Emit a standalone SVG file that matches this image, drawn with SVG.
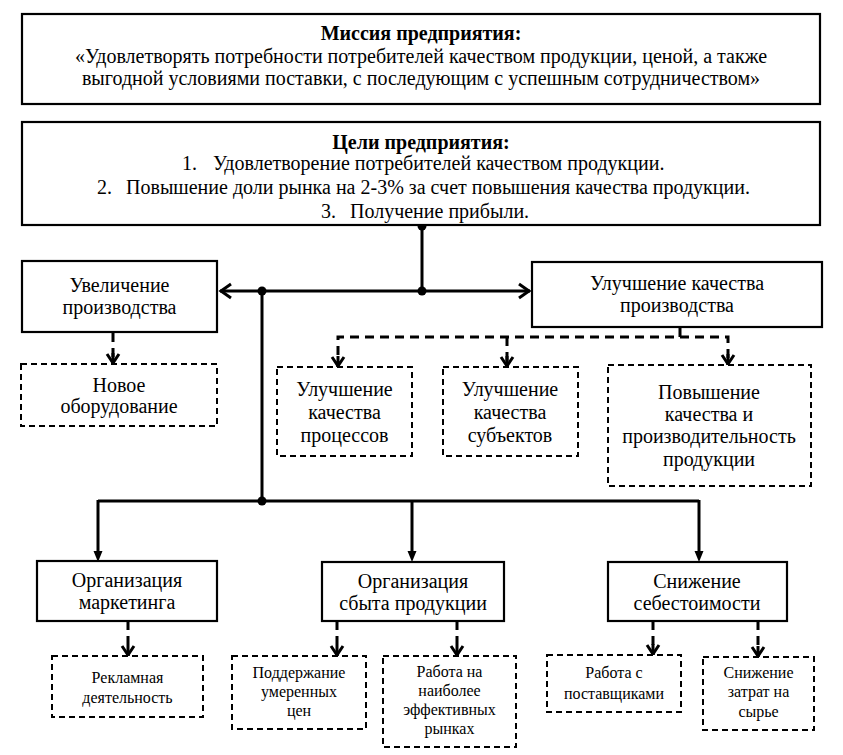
<svg xmlns="http://www.w3.org/2000/svg" width="843" height="755" viewBox="0 0 843 755">
<style>
  text { font-family: "Liberation Serif", "Times New Roman", "DejaVu Serif", serif; fill: #000; text-anchor: middle; }
  .big { font-size: 20px; }
  .sm { font-size: 16px; }
  .b { font-weight: bold; }
  .st { text-anchor: start; }
  .box { fill: #fff; stroke: #000; stroke-width: 2.2; }
  .dbox { fill: #fff; stroke: #000; stroke-width: 2; stroke-dasharray: 6 4; }
  .ln { fill: none; stroke: #000; stroke-width: 3; }
  .dl { fill: none; stroke: #000; stroke-width: 3; stroke-dasharray: 9 6; }
</style>
<defs>
  <marker id="open" markerUnits="userSpaceOnUse" markerWidth="16" markerHeight="18" viewBox="-13 -9 16 18" refX="0" refY="0" orient="auto">
    <path d="M-11,-7 L-1,0 L-11,7" fill="none" stroke="#000" stroke-width="3"/>
  </marker>
  <marker id="tri" markerUnits="userSpaceOnUse" markerWidth="14" markerHeight="12" viewBox="-1 -6 14 12" refX="0" refY="0" orient="auto">
    <path d="M0,-4.5 L11,0 L0,4.5 z" fill="#000"/>
  </marker>
  <marker id="dch" markerUnits="userSpaceOnUse" markerWidth="16" markerHeight="16" viewBox="-14 -8 16 16" refX="0" refY="0" orient="auto">
    <path d="M-11,0 L0,0" stroke="#000" stroke-width="3"/>
    <path d="M-10,-6 L-1,0 L-10,6" fill="none" stroke="#000" stroke-width="3"/>
  </marker>
</defs>

<g id="connectors">
  <path class="ln" d="M422,226 V291"/>
  <path class="ln" d="M422,291 H220" marker-end="url(#open)"/>
  <path class="ln" d="M422,291 H530" marker-end="url(#open)"/>
  <path class="ln" d="M262,291 V501"/>
  <path class="ln" d="M98,501 H699"/>
  <path class="ln" d="M98,500 V551" marker-end="url(#tri)"/>
  <path class="ln" d="M412,501 V551" marker-end="url(#tri)"/>
  <path class="ln" d="M699,500 V551" marker-end="url(#tri)"/>
  <circle cx="422" cy="226" r="4.5"/>
  <circle cx="422" cy="291" r="4.5"/>
  <circle cx="262" cy="291" r="4.5"/>
  <circle cx="262" cy="501" r="4.5"/>
  <path class="dl" d="M113,333 V364" marker-end="url(#dch)"/>
  <path class="dl" d="M680,328 V337 H338 V367" marker-end="url(#dch)"/>
  <path class="dl" d="M507,337 V367" marker-end="url(#dch)"/>
  <path class="dl" d="M680,337 H728 V365" marker-end="url(#dch)"/>
  <path class="dl" d="M128,621 V656" marker-end="url(#dch)"/>
  <path class="dl" d="M337,621 V656" marker-end="url(#dch)"/>
  <path class="dl" d="M457,621 V656" marker-end="url(#dch)"/>
  <path class="dl" d="M653,621 V655" marker-end="url(#dch)"/>
  <path class="dl" d="M758,621 V657" marker-end="url(#dch)"/>
</g>

<g id="mission">
  <rect class="box" x="22" y="14" width="798" height="90"/>
  <text class="big b" x="421" y="40">Миссия предприятия:</text>
  <text class="big" x="421" y="63">«Удовлетворять потребности потребителей качеством продукции, ценой, а также</text>
  <text class="big" x="421" y="85">выгодной условиями поставки, с последующим с успешным сотрудничеством»</text>
</g>

<g id="goals">
  <rect class="box" x="22" y="122" width="798" height="103"/>
  <text class="big b" x="421" y="149">Цели предприятия:</text>
  <text class="big st" x="182" y="170">1.</text>
  <text class="big st" x="213" y="170">Удовлетворение потребителей качеством продукции.</text>
  <text class="big st" x="97" y="194">2.</text>
  <text class="big st" x="126" y="194">Повышение доли рынка на 2-3% за счет повышения качества продукции.</text>
  <text class="big st" x="321" y="218">3.</text>
  <text class="big st" x="350" y="218">Получение прибыли.</text>
</g>

<g id="increase">
  <rect class="box" x="22" y="261" width="195" height="71"/>
  <text class="big" x="119.5" y="292">Увеличение</text>
  <text class="big" x="119.5" y="314">производства</text>
</g>

<g id="new-equipment">
  <rect class="dbox" x="21" y="364" width="196" height="62"/>
  <text class="big" x="119" y="392">Новое</text>
  <text class="big" x="119" y="413">оборудование</text>
</g>

<g id="quality">
  <rect class="box" x="532" y="262" width="290" height="65"/>
  <text class="big" x="677" y="290">Улучшение качества</text>
  <text class="big" x="677" y="312">производства</text>
</g>

<g id="processes">
  <rect class="dbox" x="277" y="367" width="135" height="89"/>
  <text class="big" x="344.5" y="396">Улучшение</text>
  <text class="big" x="344.5" y="419">качества</text>
  <text class="big" x="344.5" y="442">процессов</text>
</g>

<g id="subjects">
  <rect class="dbox" x="443" y="367" width="135" height="89"/>
  <text class="big" x="510" y="396">Улучшение</text>
  <text class="big" x="510" y="419">качества</text>
  <text class="big" x="510" y="442">субъектов</text>
</g>

<g id="productivity">
  <rect class="dbox" x="608" y="365" width="203" height="121"/>
  <text class="big" x="709" y="399">Повышение</text>
  <text class="big" x="709" y="421">качества и</text>
  <text class="big" x="709" y="443">производительность</text>
  <text class="big" x="709" y="466">продукции</text>
</g>

<g id="marketing">
  <rect class="box" x="37" y="561" width="180" height="60"/>
  <text class="big" x="127" y="587">Организация</text>
  <text class="big" x="127" y="609">маркетинга</text>
</g>

<g id="sales">
  <rect class="box" x="322" y="562" width="182" height="59"/>
  <text class="big" x="413" y="588">Организация</text>
  <text class="big" x="413" y="610">сбыта продукции</text>
</g>

<g id="cost">
  <rect class="box" x="608" y="562" width="179" height="59"/>
  <text class="big" x="697" y="588">Снижение</text>
  <text class="big" x="697" y="610">себестоимости</text>
</g>

<g id="advertising">
  <rect class="dbox" x="52" y="656" width="151" height="61"/>
  <text class="sm" x="127.5" y="683">Рекламная</text>
  <text class="sm" x="127.5" y="703">деятельность</text>
</g>

<g id="prices">
  <rect class="dbox" x="232" y="656" width="134" height="73"/>
  <text class="sm" x="299" y="678">Поддержание</text>
  <text class="sm" x="299" y="697">умеренных</text>
  <text class="sm" x="299" y="716">цен</text>
</g>

<g id="markets">
  <rect class="dbox" x="383" y="656" width="133" height="91"/>
  <text class="sm" x="449.5" y="677">Работа на</text>
  <text class="sm" x="449.5" y="696">наиболее</text>
  <text class="sm" x="449.5" y="715">эффективных</text>
  <text class="sm" x="449.5" y="734">рынках</text>
</g>

<g id="suppliers">
  <rect class="dbox" x="547" y="655" width="134" height="57"/>
  <text class="sm" x="614" y="678">Работа с</text>
  <text class="sm" x="614" y="699">поставщиками</text>
</g>

<g id="raw">
  <rect class="dbox" x="703" y="657" width="111" height="73"/>
  <text class="sm" x="758.5" y="678">Снижение</text>
  <text class="sm" x="758.5" y="697">затрат на</text>
  <text class="sm" x="758.5" y="717">сырье</text>
</g>
</svg>
